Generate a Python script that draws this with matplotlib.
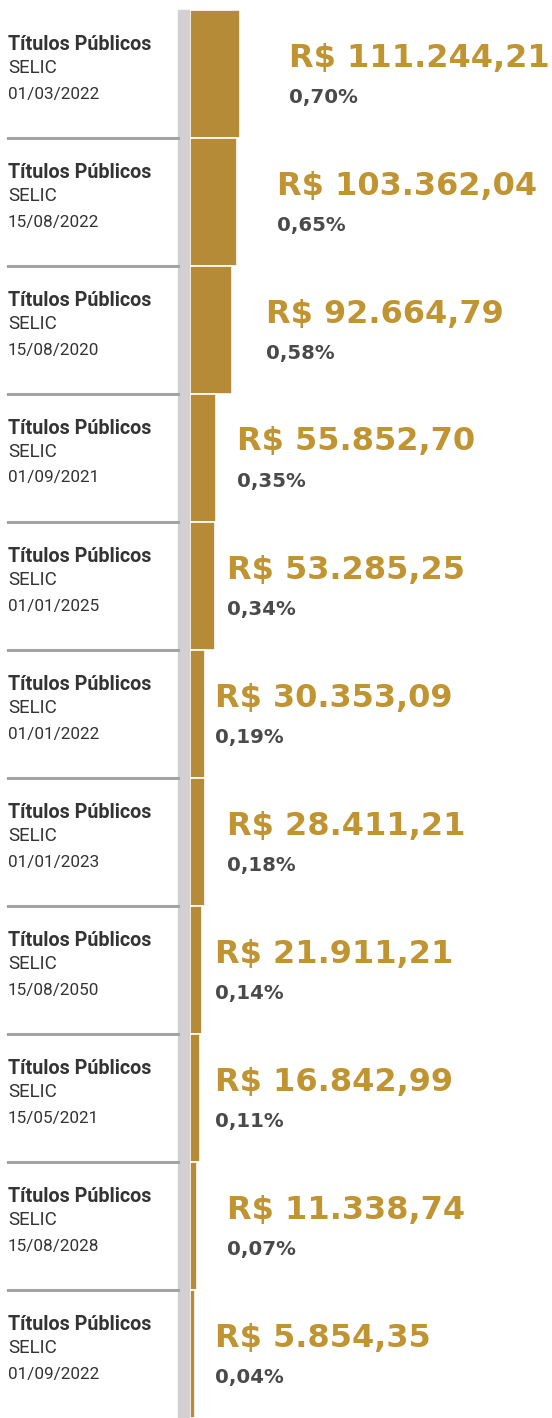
import matplotlib.pyplot as plt
from matplotlib.patches import Rectangle

# data
titles = ["Títulos Públicos"] * 11
indexers = ["SELIC"] * 11
dates = ["01/03/2022", "15/08/2022", "15/08/2020", "01/09/2021", "01/01/2025",
         "01/01/2022", "01/01/2023", "15/08/2050", "15/05/2021", "15/08/2028",
         "01/09/2022"]
values = [111244.21, 103362.04, 92664.79, 55852.70, 53285.25, 30353.09,
          28411.21, 21911.21, 16842.99, 11338.74, 5854.35]
value_labels = ["R$ 111.244,21", "R$ 103.362,04", "R$ 92.664,79", "R$ 55.852,70",
                "R$ 53.285,25", "R$ 30.353,09", "R$ 28.411,21", "R$ 21.911,21",
                "R$ 16.842,99", "R$ 11.338,74", "R$ 5.854,35"]
shares = ["0,70%", "0,65%", "0,58%", "0,35%", "0,34%", "0,19%", "0,18%",
          "0,14%", "0,11%", "0,07%", "0,04%"]

# layout (pixels)
W, H = 552, 1418
top, bottom = 10, 1418
ax_left = 190
pad = 5855          # bars get a small stub before zero
xmax = 842000
text_x = [289, 277, 266, 237, 227, 215, 227, 215, 215, 227, 215]

gold_bar = "#b58b38"
gold_txt = "#bf9431"
dark = "#333333"
grey_txt = "#4a4a4a"

plt.rcParams['font.family'] = ['Roboto', 'DejaVu Sans']
num_font = ['DejaVu Sans']

fig = plt.figure(figsize=(W / 100, H / 100), dpi=100)
fig.patch.set_facecolor("white")

# grey spine strip
fig.add_artist(Rectangle((178 / W, 0), 12 / W, 1 - top / H,
                         transform=fig.transFigure, color="#d4d0d2", zorder=0))

ax = fig.add_axes([ax_left / W, 0, (W - ax_left) / W, 1 - top / H])
n = len(values)
ax.barh(range(n), [v + pad for v in values], left=-pad, height=1.0,
        color=gold_bar, edgecolor="white", linewidth=1.2)
ax.set_ylim(n - 0.5, -0.5)
ax.set_xlim(-pad, xmax)
ax.axis("off")

row_h = (bottom - top) / n
for i in range(n):
    y0 = top + i * row_h
    def fy(p):
        return 1 - (y0 + p) / H
    fig.text(8 / W, fy(34), titles[i], fontsize=14.2, fontweight="bold", color=dark, va="center")
    fig.text(8 / W, fy(58), indexers[i], fontsize=13.5, color=dark, va="center")
    fig.text(8 / W, fy(84), dates[i], fontsize=12.3, color=dark, va="center")
    fig.text(text_x[i] / W, fy(48), value_labels[i], fontsize=23, fontweight="bold",
             color=gold_txt, va="center", family=num_font)
    fig.text(text_x[i] / W, fy(87), shares[i], fontsize=14.2, fontweight="bold",
             color=grey_txt, va="center", family=num_font)
    if i < n - 1:
        yl = fy(row_h)
        fig.add_artist(plt.Line2D([8 / W, 178 / W], [yl, yl], transform=fig.transFigure,
                                  color="#a3a3a3", linewidth=2.2))

plt.savefig("out.png", dpi=100)
